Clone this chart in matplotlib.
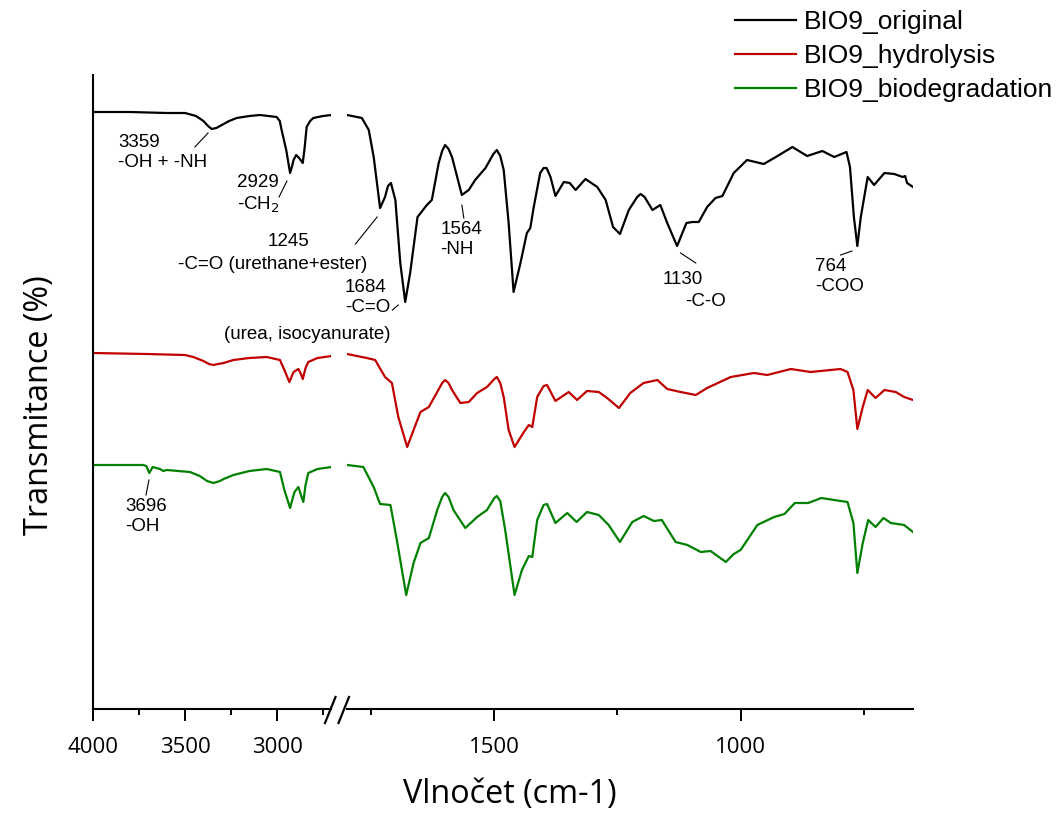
import numpy as np
import matplotlib
matplotlib.use("Agg")
import matplotlib.pyplot as plt
from matplotlib.lines import Line2D

# ---- data: wavenumber (cm-1) and transmittance (offset, a.u.) ----
# high-wavenumber part (4000 - 2700)
wn_hi_orig = [4000, 3800, 3600, 3500, 3440, 3400, 3375, 3355, 3330, 3300, 3260, 3219, 3150, 3092,
              3002, 2985, 2975, 2950, 2929, 2918, 2910, 2896, 2880, 2860, 2850, 2839, 2820, 2803,
              2750, 2703]
t_hi_orig = [597, 597, 596, 596, 593, 588, 583, 580, 581, 584, 588, 591, 593, 594,
             592, 588, 579, 559, 536, 543, 549, 554, 551, 546, 561, 582, 588, 591,
             593, 594]

wn_hi_hydr = [4000, 3708, 3500, 3455, 3400, 3370, 3346, 3320, 3290, 3237, 3150, 3056, 2984, 2960,
              2933, 2910, 2884, 2870, 2860, 2845, 2830, 2780, 2703]
t_hi_hydr = [356, 355, 354, 352, 348, 345, 344, 345, 346, 349, 351, 352, 349, 339,
             327, 337, 340, 335, 330, 341, 347, 351, 353]

wn_hi_bio = [4000, 3728, 3710, 3694, 3676, 3636, 3618, 3600, 3473, 3420, 3380, 3346, 3310, 3290,
             3237, 3150, 3056, 2984, 2960, 2929, 2905, 2884, 2870, 2857, 2845, 2830, 2780, 2703]
t_hi_bio = [244, 244, 243, 236, 242, 240, 238, 239, 237, 233, 228, 226, 228, 230,
            234, 238, 240, 237, 219, 201, 217, 222, 214, 207, 224, 236, 240, 242]

# fingerprint part (1800 - 650)
wn_lo_orig = [1799, 1769, 1755, 1745, 1732, 1722, 1716, 1710, 1701, 1691, 1681, 1671, 1656, 1637,
              1627, 1613, 1606, 1600, 1593, 1586, 1566, 1552, 1539, 1518, 1502, 1495, 1488, 1481,
              1471, 1461, 1447, 1434, 1427, 1420, 1407, 1400, 1394, 1386, 1376, 1359, 1347, 1335,
              1315, 1291, 1274, 1259, 1245, 1227, 1210, 1203, 1195, 1179, 1163, 1149, 1129, 1110,
              1098, 1085, 1068, 1051, 1037, 1014, 987, 953, 925, 895, 865, 834, 810, 785, 778, 770,
              763, 756, 742, 729, 708, 688, 671, 666, 662, 650]
t_lo_orig = [594, 591, 579, 552, 501, 512, 523, 526, 509, 446, 407, 436, 492, 504,
             509, 546, 558, 564, 560, 552, 514, 519, 529, 541, 555, 559, 553, 539,
             486, 417, 446, 476, 481, 502, 536, 541, 541, 532, 513, 527, 526, 519,
             530, 522, 509, 482, 475, 499, 512, 515, 512, 499, 504, 486, 463, 486,
             487, 487, 502, 511, 513, 536, 549, 545, 553, 562, 553, 558, 552, 557, 542, 492,
             463, 492, 532, 524, 536, 535, 532, 533, 526, 522]

wn_lo_hydr = [1799, 1759, 1742, 1722, 1708, 1695, 1677, 1664, 1650, 1633, 1616, 1606, 1600, 1593,
              1586, 1569, 1552, 1535, 1515, 1500, 1495, 1488, 1481, 1471, 1459, 1440, 1430, 1423,
              1413, 1400, 1393, 1376, 1349, 1332, 1312, 1288, 1271, 1247, 1224, 1197, 1169, 1149,
              1122, 1091, 1068, 1020, 973, 946, 898, 858, 797, 783, 771, 763, 752, 742, 726, 708,
              685, 668, 650]
t_lo_hydr = [355, 351, 349, 332, 326, 292, 262, 279, 297, 302, 317, 326, 329, 326,
             319, 306, 307, 316, 322, 330, 332, 326, 312, 279, 262, 277, 284, 282,
             312, 323, 324, 308, 317, 309, 318, 317, 311, 301, 316, 326, 329, 320,
             317, 314, 321, 332, 336, 334, 340, 337, 340, 337, 319, 280, 302, 319, 311, 319,
             317, 312, 309]

wn_lo_bio = [1799, 1766, 1745, 1732, 1711, 1698, 1679, 1664, 1650, 1633, 1616, 1606, 1600, 1593,
             1583, 1559, 1535, 1515, 1500, 1495, 1488, 1478, 1459, 1444, 1430, 1423, 1413, 1400,
             1393, 1376, 1352, 1333, 1312, 1288, 1268, 1245, 1220, 1197, 1176, 1160, 1132, 1108,
             1081, 1061, 1030, 1014, 1000, 966, 932, 911, 890, 863, 836, 797, 783, 771, 763, 752,
             741, 726, 710, 695, 668, 650]
t_lo_bio = [244, 242, 222, 205, 204, 169, 114, 146, 166, 171, 199, 212, 216, 212,
            199, 181, 192, 199, 211, 213, 208, 179, 114, 139, 153, 152, 189, 204,
            205, 186, 196, 187, 197, 194, 184, 167, 187, 193, 188, 189, 167, 164,
            157, 158, 147, 155, 159, 184, 192, 195, 206, 206, 211, 208, 207, 186, 136, 166,
            189, 182, 191, 186, 184, 177]

labels = ["BIO9_original", "BIO9_hydrolysis", "BIO9_biodegradation"]
colors = ["#000000", "#c00000", "#008000"]

W, H = 1061, 814
fig = plt.figure(figsize=(W / 100, H / 100), dpi=100)

def px_ax(x0, x1, y0=75, y1=709):
    return fig.add_axes([x0 / W, 1 - y1 / H, (x1 - x0) / W, (y1 - y0) / H])

ax1 = px_ax(93, 331.3)
ax2 = px_ax(346.6, 913)
for ax in (ax1, ax2):
    ax.set_facecolor("none")
    ax.set_ylim(0, 634)
    ax.spines["top"].set_visible(False)
    ax.spines["right"].set_visible(False)
    for s in ax.spines.values():
        s.set_linewidth(1.5)
    ax.set_yticks([])
    ax.tick_params(axis="x", which="major", direction="out", length=8.5, width=1.4, pad=12,
                   labelsize=16)
    ax.tick_params(axis="x", which="minor", direction="out", length=4.5, width=1.4)
ax2.spines["left"].set_visible(False)

ax1.set_xlim(4000, 2705)
ax1.set_xticks([4000, 3500, 3000])
ax1.set_xticks([3750, 3250, 2750], minor=True)
ax2.set_xlim(1800, 650)
ax2.set_xticks([1500, 1000])
ax2.set_xticks([1750, 1250, 750], minor=True)
for ax in (ax1, ax2):
    for lab in ax.get_xticklabels():
        lab.set_family("Open Sans")

hi = [(wn_hi_orig, t_hi_orig), (wn_hi_hydr, t_hi_hydr), (wn_hi_bio, t_hi_bio)]
lo = [(wn_lo_orig, t_lo_orig), (wn_lo_hydr, t_lo_hydr), (wn_lo_bio, t_lo_bio)]
handles = []
for (xh, yh), (xl, yl), c, lab in zip(hi, lo, colors, labels):
    ax1.plot(xh, yh, color=c, lw=1.6, solid_joinstyle="round")
    ln, = ax2.plot(xl, yl, color=c, lw=1.6, label=lab, solid_joinstyle="round")
    handles.append(ln)

# break marks on the x axis
for xa, xb in [(325, 335.5), (338.5, 349)]:
    fig.add_artist(Line2D([xa / W, xb / W], [1 - 723 / H, 1 - 697 / H], color="k", lw=1.6))

# peak annotations
af = dict(family="Liberation Sans", fontsize=13.5, va="top", ha="left", linespacing=1.25)
def lead(ax, x, y):
    ax.plot(x, y, color="k", lw=0.8, clip_on=False)

ax1.text(3864, 575, "3359\n-OH + -NH", **af)
lead(ax1, [3446, 3375], [562, 576])
ax1.text(3217, 535, "2929\n-CH$_2$", **af)
lead(ax1, [2989, 2946], [512, 528])
ax1.text(3049, 476, "1245", **af)
ax1.text(3538, 453, "-C=O (urethane+ester)", **af)
lead(ax2, [1782, 1738], [465, 492])
ax2.text(1803, 430, "1684\n-C=O", **af)
ax2.text(1711, 383, "(urea, isocyanurate)", **dict(af, ha="right"))
lead(ax2, [1707, 1695], [399, 404])
ax2.text(1610, 488, "1564\n-NH", **af)
lead(ax2, [1566, 1562], [504, 491])
ax2.text(1158, 438, "1130", **af)
ax2.text(1112, 416, "-C-O", **af)
lead(ax2, [1122, 1091], [456, 446])
ax2.text(848, 451, "764\n-COO", **af)
lead(ax2, [797, 774], [454, 458])
ax1.text(3826, 211, "3696\n-OH", **af)
lead(ax1, [3712, 3696], [214, 229])

fig.text(510 / W, 1 - 795 / H, "Vlnočet (cm-1)", family="Open Sans", fontsize=23.3,
         ha="center", va="center")
fig.text(40 / W, 1 - 405 / H, "Transmitance (%)", family="Open Sans", fontsize=23.3,
         ha="center", va="center", rotation=90)

fig.legend(handles=handles, loc="upper left", bbox_to_anchor=(735 / W, 1 - 10 / H),
           frameon=False, borderpad=0, borderaxespad=0, handlelength=2.3, handletextpad=0.3,
           labelspacing=0.38, prop=dict(family="Liberation Sans", size=19))

fig.savefig("out.png", dpi=100)
